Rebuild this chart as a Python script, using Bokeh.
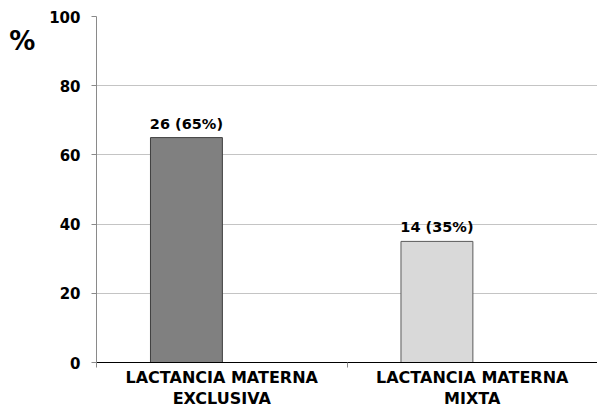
from bokeh.plotting import figure
from bokeh.models import Range1d, FixedTicker, ColumnDataSource
from bokeh.core.properties import value
from bokeh.embed import file_html
from bokeh.resources import INLINE

categories = ["LACTANCIA MATERNA\nEXCLUSIVA", "LACTANCIA MATERNA\nMIXTA"]
percents = [65, 35]
counts = [26, 14]
colors = ["#808080", "#d9d9d9"]
outlines = ["#3f3f3f", "#5a5a5a"]
y_ticks = [0, 20, 40, 60, 80, 100]
y_title = "%"

FONT = "DejaVu Sans"
offset = -0.141
bar_w = 0.287

xs = [i + 0.5 + offset for i in range(len(categories))]
labels = [f"{c} ({p}%)" for c, p in zip(counts, percents)]
src = ColumnDataSource(dict(x=xs, top=percents, color=colors, line=outlines, label=labels))

p = figure(width=597, height=410, output_backend="svg", toolbar_location=None,
           x_range=Range1d(0, len(categories)), y_range=Range1d(0, 100),
           min_border_left=96, min_border_right=0, min_border_top=16, min_border_bottom=47)
p.outline_line_color = None
p.background_fill_color = "white"

p.vbar(x="x", top="top", bottom=0, width=bar_w, fill_color="color", line_color="line",
       line_width=1, source=src)
p.text(x="x", y="top", text="label", source=src, text_align="center", text_baseline="bottom",
       y_offset=-6, text_font_size="14.5px", text_font_style="bold", text_font=value(FONT),
       text_color="black")

# y axis
p.yaxis.ticker = FixedTicker(ticks=y_ticks)
p.yaxis.axis_line_color = "#8a8a8a"
p.yaxis.major_tick_line_color = "#8a8a8a"
p.yaxis.major_tick_out = 5
p.yaxis.major_tick_in = 0
p.yaxis.minor_tick_line_color = None
p.yaxis.major_label_text_font = FONT
p.yaxis.major_label_text_font_size = "15px"
p.yaxis.major_label_text_font_style = "bold"
p.yaxis.major_label_text_color = "black"
p.yaxis.major_label_standoff = 11
p.yaxis.axis_label = "\n\n" + y_title
p.yaxis.axis_label_orientation = "horizontal"
p.yaxis.axis_label_align = "end"
p.yaxis.axis_label_standoff = 11
p.yaxis.axis_label_text_font = FONT
p.yaxis.axis_label_text_font_size = "26px"
p.yaxis.axis_label_text_font_style = "bold"
p.yaxis.axis_label_text_color = "black"
p.yaxis.axis_label_text_line_height = 0.8

p.ygrid.ticker = FixedTicker(ticks=y_ticks[1:])
p.ygrid.grid_line_color = "#c4c4c4"
p.xgrid.grid_line_color = None

# x axis
centers = [i + 0.5 for i in range(len(categories))]
bounds = list(range(len(categories) + 1))
p.xaxis.ticker = FixedTicker(ticks=centers, minor_ticks=bounds)
p.xaxis.major_label_overrides = {c: lab for c, lab in zip(centers, categories)}
p.xaxis.axis_line_color = "black"
p.xaxis.major_tick_line_color = None
p.xaxis.major_tick_out = 0
p.xaxis.major_tick_in = 0
p.xaxis.minor_tick_line_color = "#8a8a8a"
p.xaxis.minor_tick_out = 5
p.xaxis.minor_tick_in = 0
p.xaxis.major_label_text_font = FONT
p.xaxis.major_label_text_font_size = "16px"
p.xaxis.major_label_text_font_style = "bold"
p.xaxis.major_label_text_color = "black"
p.xaxis.major_label_text_line_height = 1.12
p.xaxis.major_label_standoff = 0

open("out.html", "w").write(file_html(p, INLINE))
